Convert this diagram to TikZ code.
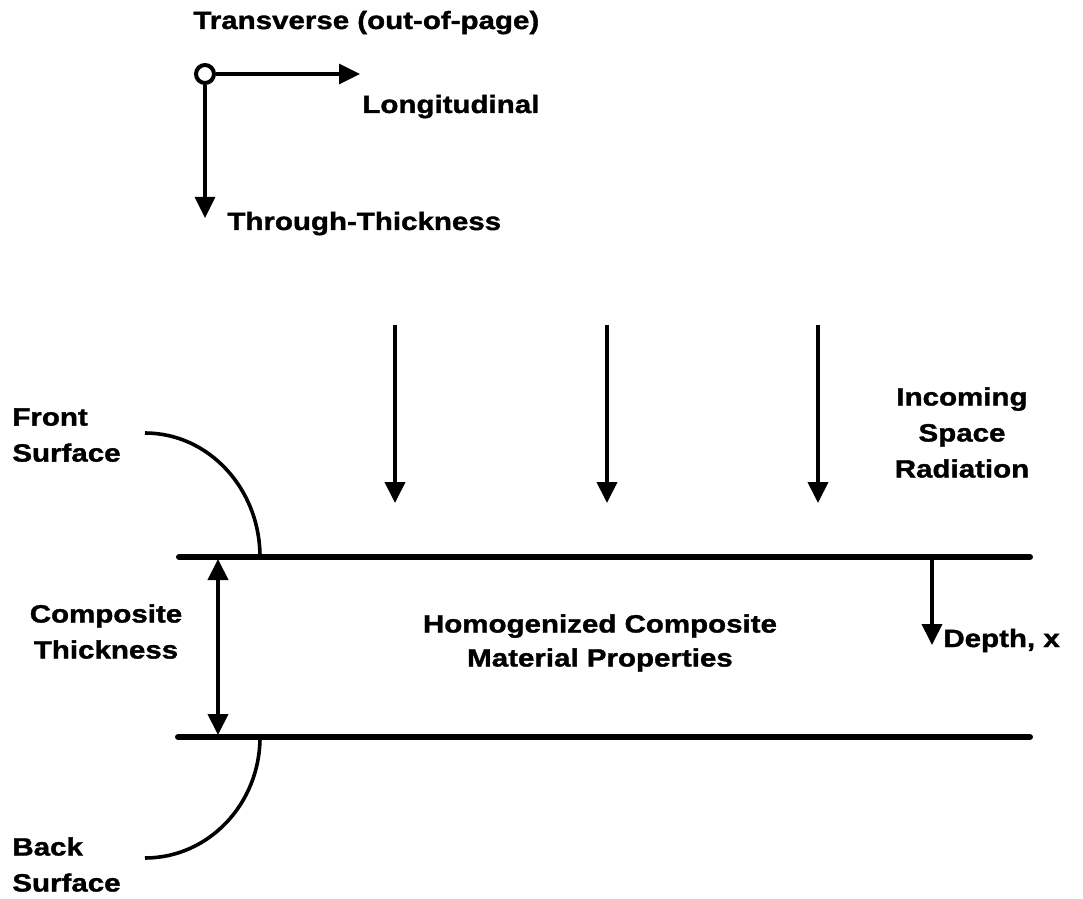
\documentclass[tikz,border=0pt]{standalone}
\usepackage{fontspec}
\newfontfamily\lab{Liberation Sans Bold}[FakeStretch=1.18, FakeBold=1.4]
\usetikzlibrary{arrows.meta}
\tikzset{
  lbl/.style={font=\lab\fontsize{12.5pt}{18pt}\selectfont, inner sep=0pt},
  ml/.style={lbl, align=center},
  mll/.style={lbl, align=left},
  arr/.style={line width=2pt, -{Triangle[length=10.5pt,width=10pt]}},
  darr/.style={line width=2pt, {Triangle[length=10.5pt,width=10pt]}-{Triangle[length=10.5pt,width=10pt]}},
  surf/.style={line width=3pt, line cap=round},
  pointer/.style={line width=1.8pt},
}
\begin{document}
\begin{tikzpicture}[x=0.5pt, y=-0.5pt]
\useasboundingbox (0,0) rectangle (1083,899);
% axes
\node[circle, draw, line width=2pt, minimum size=9pt, inner sep=0pt] (o) at (205,74) {};
\coordinate (lt) at (360,74);
\coordinate (tt) at (205,218);
\draw[arr, line width=1.6pt] (o.east) -- (lt);
\draw[arr, line width=1.6pt] (o.south) -- (tt);
\node[lbl, anchor=base west] (trans) at (193,29) {Transverse (out-of-page)};
\node[lbl, anchor=base west] (long) at (362,113) {Longitudinal};
\node[lbl, anchor=base west] (thru) at (227,230) {Through-Thickness};
% radiation arrows
\foreach \x/\n in {395/a,607/b,818/c}{
  \coordinate (r\n s) at (\x,325);
  \coordinate (r\n e) at (\x,503);
  \draw[arr] (r\n s) -- (r\n e);
}
\node[ml, anchor=north] (inc) at (962,387) {Incoming\\Space\\Radiation};
% surfaces
\coordinate (fl) at (179,557);
\coordinate (fr) at (1030,557);
\coordinate (bl) at (178,737);
\coordinate (br) at (1030,737);
\draw[surf] (fl) -- (fr);
\draw[surf] (bl) -- (br);
% thickness
\coordinate (ttop) at (218,559);
\coordinate (tbot) at (218,735);
\draw[darr] (ttop) -- (tbot);
\node[ml, anchor=north] (comp) at (106,604) {Composite\\Thickness};
\node[ml, anchor=north, font=\lab\fontsize{12.5pt}{17pt}\selectfont] (homog) at (600,614) {Homogenized Composite\\Material Properties};
% depth
\coordinate (ds) at (932,557);
\coordinate (de) at (932,645);
\draw[arr] (ds) -- (de);
\node[lbl, anchor=base west] (depth) at (943,647) {Depth, x};
% front / back surface labels
\node[mll, anchor=north west] (front) at (12,408) {Front\\Surface};
\node[mll, anchor=north west] (back) at (12,837) {Back\\Surface};
\coordinate (fa) at (145,433);
\coordinate (fb) at (260,557);
\coordinate (ba) at (260,737);
\coordinate (bb) at (145,858);
\draw[pointer] (fa) .. controls (208.5,433) and (260,488.5) .. (fb);
\draw[pointer] (ba) .. controls (260,804) and (208.5,858) .. (bb);
\end{tikzpicture}
\end{document}
